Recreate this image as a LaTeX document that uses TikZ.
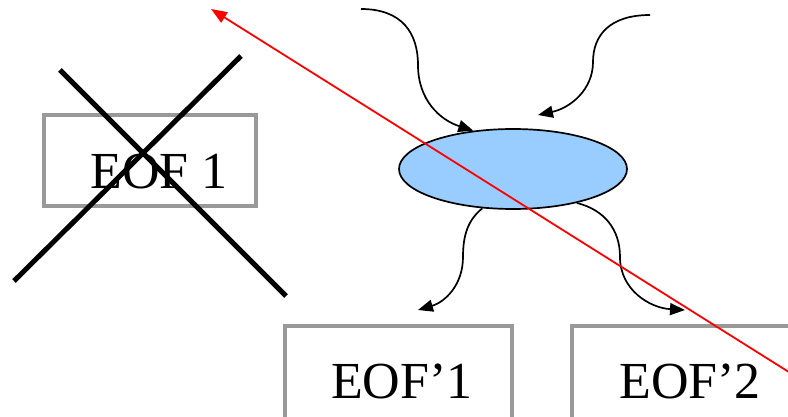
\documentclass[tikz,border=0pt]{standalone}
\usepackage{fontspec}
\setmainfont{Liberation Serif}
\usetikzlibrary{shapes.geometric,arrows.meta}
\definecolor{boxgray}{HTML}{999999}
\definecolor{ellfill}{HTML}{99CCFF}
\begin{document}
\begin{tikzpicture}[x=1pt,y=1pt,
  eofbox/.style={draw=boxgray,line width=3.5pt,rectangle,inner sep=0pt},
  lbl/.style={font=\fontsize{52}{60}\selectfont,inner sep=0pt,anchor=base},
  cross/.style={line width=5pt},
  flow/.style={line width=1.7pt,-{Triangle[length=15pt,width=12pt]}},
  redarr/.style={red,line width=1.8pt,-{Triangle[length=16pt,width=12pt]}}]
\useasboundingbox (0,0) rectangle (788,416);
\clip (0,0) rectangle (788,416);
% boxes
\node[eofbox,minimum width=212pt,minimum height=91pt] (eof1) at (150,255.5) {};
\node[lbl] (t1) at (159,228) {EOF 1};
\node[eofbox,minimum width=227pt,minimum height=110pt] (eofa) at (398.5,35) {};
\node[lbl] (ta) at (402,18) {EOF’1};
\node[eofbox,minimum width=240pt,minimum height=110pt] (eofb) at (692,35) {};
\node[lbl] (tb) at (690,18) {EOF’2};
% cross
\coordinate (c1a) at (60,346);
\coordinate (c1b) at (286,120);
\coordinate (c2a) at (241,360);
\coordinate (c2b) at (14,135);
\draw[cross] (c1a) -- (c1b);
\draw[cross] (c2a) -- (c2b);
% ellipse
\node[ellipse,draw,line width=1.7pt,fill=ellfill,minimum width=228pt,minimum height=80pt,inner sep=0pt] (ell) at (513,247) {};
% curved arrows
\coordinate (inA) at (361,407);
\coordinate (inB) at (650,401);
\coordinate (tipB) at (538,301);
\coordinate (tipC) at (418,106);
\coordinate (tipD) at (685,106);
\draw[flow] (inA) .. controls (402,407) and (418,383) .. (418,351)
  .. controls (418,316) and (440,296) .. (ell.136);
\draw[flow] (inB) .. controls (610,401) and (593,381) .. (593,354)
  .. controls (593,326) and (570,308) .. (tipB);
\draw[flow] (ell.-128) .. controls (468,196) and (463,181) .. (463,159)
  .. controls (463,131) and (445,114) .. (tipC);
\draw[flow] (ell.-28) .. controls (605,206) and (620,186) .. (620,159)
  .. controls (620,126) and (650,108) .. (tipD);
% red arrow
\coordinate (rs) at (792,42);
\coordinate (re) at (211,407);
\draw[redarr] (rs) -- (re);
\end{tikzpicture}
\end{document}
